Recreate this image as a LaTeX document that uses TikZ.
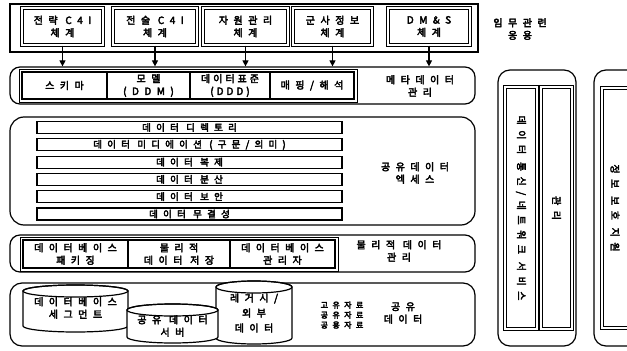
\documentclass[tikz,border=0pt]{standalone}
\usepackage{fontspec}
\setmainfont{Noto Sans CJK KR}[AutoFakeBold=3.5, LetterSpace=55]
\newfontfamily\tightkr{Noto Sans CJK KR}[AutoFakeBold=3.5, LetterSpace=30]
\usetikzlibrary{arrows.meta}
\newcommand\drawcyl[5]{%
  \pgfmathsetmacro\cylcx{(#1+#2)/2}%
  \pgfmathsetmacro\cylrx{(#2-#1)/2}%
  \filldraw[fill=white, ln] (#1,#3) -- (#1,#4) arc[start angle=180, end angle=0, x radius=\cylrx, y radius=#5] -- (#2,#3) arc[start angle=0, end angle=-180, x radius=\cylrx, y radius=#5] -- cycle;
  \draw[ln] (\cylcx,#3) ellipse[x radius=\cylrx, y radius=#5];
}
\begin{document}
\begin{tikzpicture}[x=1pt,y=-1pt,
  every node/.style={font=\bfseries\fontsize{10}{12.5}\selectfont, inner sep=0pt, align=center},
  ln/.style={line width=1.2pt},
  outer/.style={draw, ln, rounded corners=10pt},
  dbox/.style={draw, line width=1pt, double, double distance=1.6pt},
  cell/.style={draw, line width=1.1pt},
  bar/.style={draw, line width=1.1pt, minimum width=305, minimum height=12, font=\bfseries\fontsize{9.5}{11}\selectfont},
  arr/.style={line width=1.1pt, -{Triangle[length=6pt,width=6pt]}},
  small/.style={font=\bfseries\fontsize{8}{10}\selectfont},
]
\useasboundingbox (0,0) rectangle (627,351);

% ---- top: mission applications
\node[draw, ln, minimum width=468, minimum height=48] (apps) at (244,28) {};
\node[dbox, minimum width=81, minimum height=37] (b1) at (62.5,26.5) {전략 C4I\\체계};
\node[dbox, minimum width=84, minimum height=37] (b2) at (155,26.5) {전술 C4I\\체계};
\node[dbox, minimum width=85, minimum height=37] (b3) at (245.5,26.5) {자원관리\\체계};
\node[dbox, minimum width=79, minimum height=37] (b4) at (332.5,26.5) {군사정보\\체계};
\node[dbox, minimum width=82, minimum height=37] (b5) at (429,26.5) {DM\&S\\체계};
\node (lapps) at (520,29) {임무관련\\응용};

% ---- row 2: metadata management
\node[outer, minimum width=465, minimum height=37] (r2) at (242.5,85.5) {};
\node[cell, minimum width=85, minimum height=27] (c21) at (64.5,85.5) {스키마};
\node[cell, minimum width=83, minimum height=27] (c22) at (148.5,85.5) {모델\\(DDM)};
\node[cell, minimum width=80, minimum height=27, font=\tightkr\bfseries\fontsize{10}{12.5}\selectfont] (c23) at (230,85.5) {데이터표준\\(DDD)};
\node[cell, minimum width=84, minimum height=27] (c24) at (312,85.5) {매핑/해석};
\draw[line width=0.8pt] ([shift={(-2.5,-2.5)}]c21.north west) rectangle ([shift={(2.5,2.5)}]c24.south east);
\node (lr2) at (420,86) {메타데이터\\관리};

\foreach \b in {b1,b2,b3,b4,b5}
  \draw[arr] (\b.south) -- (\b.south |- r2.north);

% ---- row 3: shared data access
\node[outer, rounded corners=14pt, minimum width=465, minimum height=108] (r3) at (242.5,171) {};
\node[bar] (s1) at (189.5,127.5) {데이터 디렉토리};
\node[bar] (s2) at (189.5,144.8) {데이터 미디에이션 (구문/의미)};
\node[bar] (s3) at (189.5,162.1) {데이터 복제};
\node[bar] (s4) at (189.5,179.4) {데이터 분산};
\node[bar] (s5) at (189.5,196.7) {데이터 보안};
\node[bar] (s6) at (189.5,214) {데이터 무결성};
\node (lr3) at (415,173) {공유데이터\\엑세스};

% ---- row 4: physical data management
\node[outer, minimum width=465, minimum height=37] (r4) at (242.5,253.5) {};
\node[cell, minimum width=105, minimum height=28] (c41) at (75.5,254) {데이터베이스\\패키징};
\node[cell, minimum width=102, minimum height=28] (c42) at (179,254) {물리적\\데이터 저장};
\node[cell, minimum width=105, minimum height=28] (c43) at (282.5,254) {데이터베이스\\관리자};
\draw[line width=0.8pt] ([shift={(-2.5,-2.5)}]c41.north west) rectangle ([shift={(2.5,2.5)}]c43.south east);
\node (lr4) at (399,251) {물리적 데이터\\관리};

% ---- row 5: shared data
\node[outer, rounded corners=12pt, minimum width=465, minimum height=63] (r5) at (242.5,314.5) {};
\drawcyl{23}{128}{291}{326}{6}
\node (d1) at (75.5,308) {데이터베이스\\세그먼트};
\drawcyl{216}{292}{287}{338}{6}
\node[font=\bfseries\fontsize{10}{15}\selectfont] (d3) at (254,313) {레거시/\\외부\\데이터};
\drawcyl{127}{218}{310}{337}{6}
\node (d2) at (172.5,326) {공유 데이터\\서버};
\node[small] (kinds) at (342,315) {고유자료\\공유자료\\공용자료};
\node (lr5) at (403,313) {공유\\데이터};

% ---- vertical columns
\node[outer, rounded corners=12pt, minimum width=78, minimum height=276] (col1) at (537,208) {};
\node[dbox, minimum width=32, minimum height=242] (p1) at (521,208) {};
\node[dbox, minimum width=31, minimum height=242] (p2) at (556.5,208) {};
\node[rotate=-90] (tp1) at (p1) {데이터 통신/네트워크 서비스};
\node[rotate=-90] (tp2) at (p2) {관리};

\node[outer, rounded corners=12pt, minimum width=60, minimum height=276] (col2) at (624,208) {};
\node[dbox, minimum width=60, minimum height=240] (p3) at (632,208) {};
\node[rotate=-90] (tp3) at (615,208) {정보 보호 지원};
\end{tikzpicture}
\end{document}
